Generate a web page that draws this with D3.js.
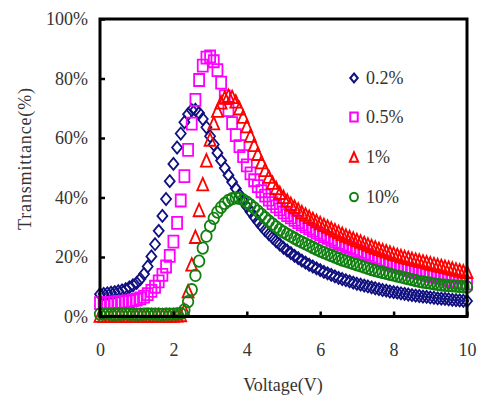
<!DOCTYPE html>
<html>
<head>
<meta charset="utf-8">
<script src="https://cdn.jsdelivr.net/npm/d3@7"></script>
<style>
  html, body { margin: 0; padding: 0; background: #fff; }
  svg { display: block; }
</style>
</head>
<body>
<div id="chart"></div>
<script>
// ---------------- DATA ----------------
const voltage = [0.0,0.1,0.2,0.3,0.4,0.5,0.6,0.7,0.8,0.9,1.0,1.1,1.2,1.3,1.4,1.5,1.6,1.7,1.8,1.9,
  2.0,2.1,2.2,2.3,2.4,2.5,2.6,2.7,2.8,2.9,3.0,3.1,3.2,3.3,3.4,3.5,3.6,3.7,3.8,3.9,
  4.0,4.1,4.2,4.3,4.4,4.5,4.6,4.7,4.8,4.9,5.0,5.1,5.2,5.3,5.4,5.5,5.6,5.7,5.8,5.9,
  6.0,6.1,6.2,6.3,6.4,6.5,6.6,6.7,6.8,6.9,7.0,7.1,7.2,7.3,7.4,7.5,7.6,7.7,7.8,7.9,
  8.0,8.1,8.2,8.3,8.4,8.5,8.6,8.7,8.8,8.9,9.0,9.1,9.2,9.3,9.4,9.5,9.6,9.7,9.8,9.9,10.0];

const t02 = [7.5,7.6,7.8,8.0,8.2,8.5,8.8,9.2,9.8,10.5,11.3,12.6,14.3,16.8,20.2,24.3,28.8,33.8,39.5,45.5,
  51.3,56.8,61.5,65.3,68.0,69.4,69.5,68.4,66.4,63.6,60.6,57.8,55.0,52.4,49.9,47.5,45.2,43.0,40.9,38.9,
  37.0,35.2,33.5,31.9,30.4,29.0,27.7,26.5,25.3,24.2,23.1,22.2,21.3,20.4,19.6,18.8,18.1,17.4,16.8,16.2,
  15.6,15.0,14.5,14.0,13.5,13.0,12.6,12.2,11.8,11.4,11.0,10.7,10.4,10.1,9.8,9.5,9.2,8.9,8.7,8.4,
  8.2,8.0,7.8,7.6,7.4,7.2,7.0,6.9,6.7,6.6,6.4,6.3,6.1,6.0,5.9,5.8,5.6,5.5,5.4,5.3,5.2];

const t05 = [4.5,4.5,4.6,4.6,4.7,4.8,4.9,5.0,5.2,5.4,5.7,6.1,6.7,7.5,8.6,10.0,11.8,14.0,16.8,20.4,
  25.2,31.5,39.0,47.2,56.0,64.8,72.8,79.5,84.3,87.0,87.4,85.8,82.8,78.6,74.0,69.4,65.0,61.0,57.3,53.9,
  50.8,48.1,45.8,43.8,42.1,40.6,39.3,38.1,37.0,36.0,35.0,34.1,33.3,32.5,31.7,31.0,30.3,29.6,28.9,28.2,
  27.6,27.0,26.4,25.8,25.2,24.7,24.2,23.7,23.2,22.7,22.2,21.7,21.2,20.7,20.2,19.7,19.2,18.7,18.2,17.7,
  17.2,16.8,16.4,16.0,15.6,15.2,14.9,14.6,14.3,14.0,13.7,13.4,13.1,12.8,12.5,12.2,11.9,11.7,11.5,11.3,11.1];

const t1 = [0.3,0.3,0.2,0.3,0.4,0.3,0.3,0.2,0.3,0.3,0.4,0.3,0.3,0.2,0.3,0.3,0.4,0.3,0.3,0.3,
  0.3,0.4,0.5,2.0,8.5,17.5,26.8,35.8,44.5,52.5,59.5,65.0,69.2,72.0,73.6,74.2,73.8,72.3,70.0,67.2,
  64.0,60.8,57.7,54.7,51.9,49.3,47.0,45.0,43.2,41.6,40.2,39.0,37.9,36.9,36.0,35.1,34.3,33.5,32.8,32.1,
  31.4,30.8,30.2,29.6,29.0,28.4,27.8,27.2,26.7,26.2,25.7,25.2,24.7,24.2,23.7,23.2,22.7,22.3,21.9,21.5,
  21.1,20.7,20.3,20.0,19.7,19.4,19.1,18.8,18.5,18.2,17.9,17.6,17.3,17.0,16.7,16.4,16.1,15.8,15.5,15.2,15.0];

const t10 = [0.8,0.8,0.9,0.8,0.7,0.8,0.8,0.9,0.8,0.8,0.7,0.8,0.8,0.9,0.8,0.8,0.8,0.7,0.8,0.8,
  0.8,0.9,1.0,2.2,5.0,9.0,13.8,18.6,23.0,27.0,30.4,33.0,35.1,36.7,38.0,39.0,39.6,39.9,39.7,39.2,
  38.4,37.5,36.5,35.4,34.3,33.2,32.1,31.1,30.1,29.2,28.4,27.7,27.0,26.3,25.6,25.0,24.4,23.8,23.2,22.6,
  22.0,21.5,21.0,20.5,20.0,19.5,19.0,18.6,18.2,17.8,17.4,17.0,16.6,16.2,15.8,15.4,15.1,14.8,14.5,14.2,
  13.9,13.6,13.3,13.0,12.7,12.4,12.1,11.8,11.6,11.4,11.2,11.0,10.8,10.6,10.5,10.4,10.3,10.2,10.1,10.0,9.9];

const seriesNames = ["0.2%", "0.5%", "1%", "10%"];
const xTicks = [0, 2, 4, 6, 8, 10];
const yTicks = [0, 20, 40, 60, 80, 100];
const xTitle = "Voltage(V)";
const yTitle = "Transmittance(%)";

// ---------------- STYLE ----------------
const colors = ["#101080", "#ff00ff", "#ff0000", "#108010"];
const shapes = ["diamond", "square", "triangle", "circle"];

const W = 477, H = 403;
const plot = { left: 100, right: 467, top: 19, bottom: 316.5 };

const svg = d3.select("#chart").append("svg")
  .attr("width", W).attr("height", H);

const x = d3.scaleLinear().domain([0, 10]).range([plot.left, plot.right]);
const y = d3.scaleLinear().domain([0, 100]).range([plot.bottom, plot.top]);

function markerPath(shape, w, h) {
  const a = w / 2, b = h / 2;
  if (shape === "diamond") return `M0,${-b}L${a},0L0,${b}L${-a},0Z`;
  if (shape === "square") return `M${-a},${-b}H${a}V${b}H${-a}Z`;
  if (shape === "triangle") return `M0,${-b}L${a},${b}H${-a}Z`;
  return `M${-a},0A${a},${b} 0 1,0 ${a},0A${a},${b} 0 1,0 ${-a},0Z`;
}
const markerSize = {
  diamond: [10, 12],
  square: [10, 12],
  triangle: [11, 12.5],
  circle: [10.5, 11.5]
};

const allSeries = [t02, t05, t1, t10];

// data markers
const gData = svg.append("g");
allSeries.forEach((vals, si) => {
  const shape = shapes[si];
  const [mw, mh] = markerSize[shape];
  gData.append("g")
    .selectAll("path")
    .data(vals.map((v, i) => ({ v: voltage[i], t: v })))
    .join("path")
    .attr("d", markerPath(shape, mw, mh))
    .attr("transform", d => `translate(${x(d.v)},${y(d.t)})`)
    .attr("fill", "none")
    .attr("stroke", colors[si])
    .attr("stroke-width", 1.8);
});

// frame
svg.append("rect")
  .attr("x", plot.left).attr("y", plot.top)
  .attr("width", plot.right - plot.left).attr("height", plot.bottom - plot.top)
  .attr("fill", "none").attr("stroke", "#000").attr("stroke-width", 3);

const fontFam = "'Liberation Serif', 'Times New Roman', serif";
const textCol = "#333";

// x axis
const xAxis = d3.axisBottom(x).tickValues(xTicks).tickSize(-5).tickPadding(27)
  .tickFormat(d3.format("d"));
const gx = svg.append("g").attr("transform", `translate(0,${plot.bottom})`).call(xAxis);
gx.select(".domain").remove();
gx.selectAll(".tick line").attr("stroke", "#000").attr("stroke-width", 2.5);
gx.selectAll(".tick text").attr("font-family", fontFam).attr("font-size", 18).attr("fill", textCol);

// y axis
const yAxis = d3.axisLeft(y).tickValues(yTicks).tickSize(-5).tickPadding(12)
  .tickFormat(d => d + "%");
const gy = svg.append("g").attr("transform", `translate(${plot.left},0)`).call(yAxis);
gy.select(".domain").remove();
gy.selectAll(".tick line").attr("stroke", "#000").attr("stroke-width", 2.5);
gy.selectAll(".tick text").attr("font-family", fontFam).attr("font-size", 18).attr("fill", textCol);

// axis titles
svg.append("text")
  .attr("x", 283).attr("y", 391)
  .attr("text-anchor", "middle")
  .attr("font-family", fontFam).attr("font-size", 18).attr("fill", textCol)
  .text(xTitle);

svg.append("text")
  .attr("transform", "translate(31,159) rotate(-90)")
  .attr("text-anchor", "middle")
  .attr("font-family", fontFam).attr("font-size", 18).attr("fill", textCol)
  .attr("textLength", 142).attr("lengthAdjust", "spacing")
  .text(yTitle);

// legend
const legendY = [78, 117, 157, 197];
const gLeg = svg.append("g");
seriesNames.forEach((name, i) => {
  const shape = shapes[i];
  const [mw, mh] = markerSize[shape];
  gLeg.append("path")
    .attr("d", markerPath(shape, mw * 0.75, mh * 0.75))
    .attr("transform", `translate(354,${legendY[i]})`)
    .attr("fill", "none").attr("stroke", colors[i]).attr("stroke-width", 2);
  gLeg.append("text")
    .attr("x", 366).attr("y", legendY[i])
    .attr("dy", "0.35em")
    .attr("font-family", fontFam).attr("font-size", 18).attr("fill", textCol)
    .text(name);
});
</script>
</body>
</html>
